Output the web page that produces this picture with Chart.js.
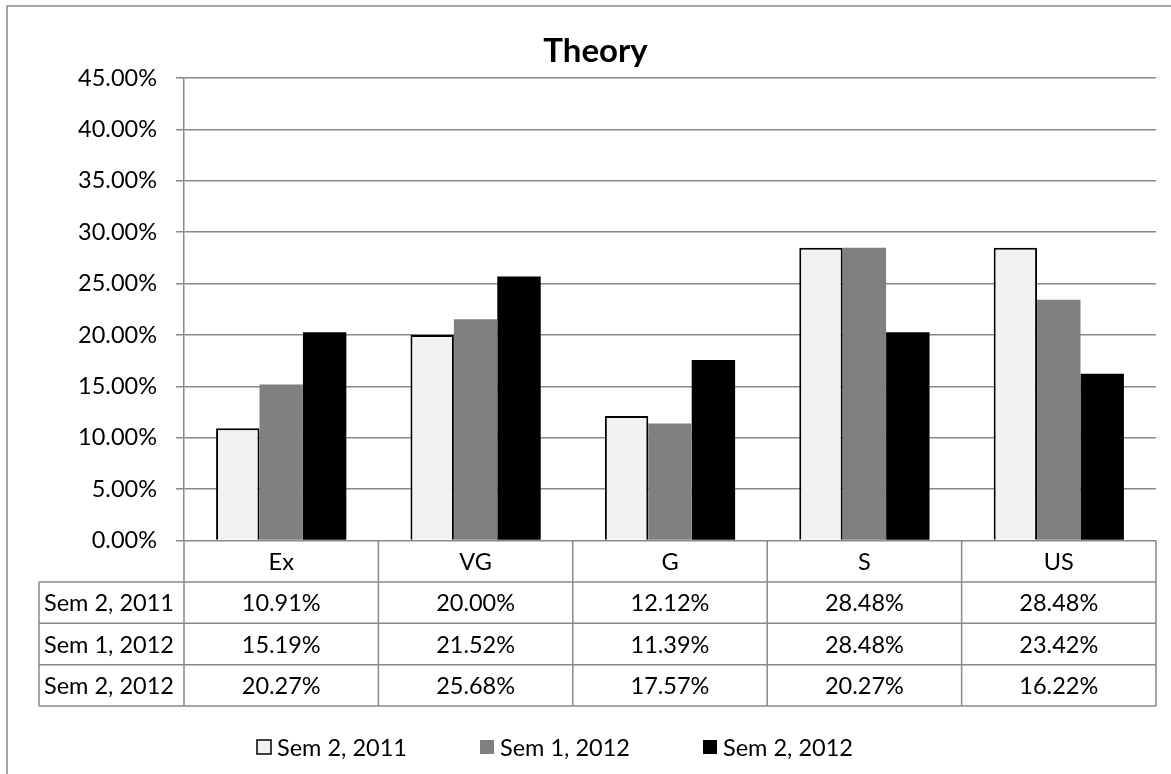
<!DOCTYPE html>
<html>
<head>
<meta charset="utf-8">
<title>Theory</title>
<script src="https://cdn.jsdelivr.net/npm/chart.js@4.4.1/dist/chart.umd.min.js"></script>
<style>
  html, body { margin: 0; padding: 0; background: #ffffff; overflow: hidden; }
  canvas { display: block; }
</style>
</head>
<body>
<canvas id="chart" width="1171" height="774"></canvas>
<script>
// Grade categories and the share of students in each, per semester (percent)
const categories = ['Ex', 'VG', 'G', 'S', 'US'];
const seriesNames = ['Sem 2, 2011', 'Sem 1, 2012', 'Sem 2, 2012'];
const sem2_2011 = [10.91, 20.00, 12.12, 28.48, 28.48];
const sem1_2012 = [15.19, 21.52, 11.39, 28.48, 23.42];
const sem2_2012 = [20.27, 25.68, 17.57, 20.27, 16.22];
const yTickValues = [0, 5, 10, 15, 20, 25, 30, 35, 40, 45];

const FONT = 'Lato, "Open Sans", "DejaVu Sans", sans-serif';
const LINE = '#898989';
const TEXT_SIZE = 23.5;
const ROW_H = 41.4;
const HEADER_LEFT = 39;

const pct = v => v.toFixed(2) + '%';

// Outer frame of the chart
const framePlugin = {
  id: 'frame',
  beforeDraw(chart) {
    const ctx = chart.ctx;
    ctx.save();
    ctx.fillStyle = '#ffffff';
    ctx.fillRect(0, 0, chart.width, chart.height);
    ctx.strokeStyle = LINE;
    ctx.lineWidth = 1.5;
    ctx.beginPath();
    ctx.moveTo(7, chart.height + 5);
    ctx.lineTo(7, 6);
    ctx.lineTo(chart.width + 5, 6);
    ctx.stroke();
    ctx.restore();
  }
};

// Data table under the plot, aligned to the category scale
const dataTablePlugin = {
  id: 'dataTable',
  afterDraw(chart) {
    const ctx = chart.ctx;
    const xs = chart.scales.x;
    const ys = chart.scales.y;
    const top = ys.getPixelForValue(0);
    const n = categories.length;
    const half = (xs.getPixelForValue(1) - xs.getPixelForValue(0)) / 2;
    const edges = [];
    for (let i = 0; i < n; i++) edges.push(xs.getPixelForValue(i) - half);
    edges.push(xs.getPixelForValue(n - 1) + half);
    const rows = chart.data.datasets.length;
    const bottom = top + ROW_H * (rows + 1);

    ctx.save();
    ctx.strokeStyle = LINE;
    ctx.lineWidth = 1.5;
    ctx.beginPath();
    for (let r = 1; r <= rows + 1; r++) {
      const yy = top + r * ROW_H;
      ctx.moveTo(HEADER_LEFT, yy);
      ctx.lineTo(edges[n], yy);
    }
    edges.forEach(ex => { ctx.moveTo(ex, top); ctx.lineTo(ex, bottom); });
    ctx.moveTo(HEADER_LEFT, top + ROW_H);
    ctx.lineTo(HEADER_LEFT, bottom);
    ctx.stroke();

    ctx.fillStyle = '#000000';
    ctx.font = TEXT_SIZE + 'px ' + FONT;
    ctx.textBaseline = 'middle';
    ctx.textAlign = 'center';
    categories.forEach((c, i) => ctx.fillText(c, xs.getPixelForValue(i), top + ROW_H / 2 + 1));
    chart.data.datasets.forEach((ds, r) => {
      const cy = top + ROW_H * (r + 1.5) + 1;
      ctx.textAlign = 'left';
      ctx.fillText(ds.label, HEADER_LEFT + 5, cy);
      ctx.textAlign = 'center';
      ds.data.forEach((v, i) => ctx.fillText(pct(v), xs.getPixelForValue(i), cy));
    });
    ctx.restore();
  }
};

// Legend row at the bottom
const legendRowPlugin = {
  id: 'legendRow',
  afterDraw(chart) {
    const ctx = chart.ctx;
    const startX = 257, stride = 223, cy = 747, box = 14;
    ctx.save();
    ctx.font = TEXT_SIZE + 'px ' + FONT;
    ctx.textBaseline = 'middle';
    ctx.textAlign = 'left';
    chart.data.datasets.forEach((ds, i) => {
      const bx = startX + i * stride;
      ctx.fillStyle = ds.backgroundColor;
      ctx.fillRect(bx, cy - box / 2, box, box);
      if (ds.borderWidth) {
        ctx.strokeStyle = ds.borderColor;
        ctx.lineWidth = 1.5;
        ctx.strokeRect(bx, cy - box / 2, box, box);
      }
      ctx.fillStyle = '#000000';
      ctx.fillText(ds.label, bx + box + 6, cy + 1);
    });
    ctx.restore();
  }
};

new Chart(document.getElementById('chart'), {
  type: 'bar',
  data: {
    labels: categories,
    datasets: [
      { label: seriesNames[0], data: sem2_2011, backgroundColor: '#f2f2f2', borderColor: '#000000', borderWidth: 2 },
      { label: seriesNames[1], data: sem1_2012, backgroundColor: '#808080', borderWidth: 0 },
      { label: seriesNames[2], data: sem2_2012, backgroundColor: '#000000', borderWidth: 0 }
    ]
  },
  options: {
    responsive: false,
    animation: false,
    devicePixelRatio: 1,
    categoryPercentage: 0.67,
    barPercentage: 1.0,
    layout: { padding: { left: 35, right: 15, top: 0, bottom: 68 } },
    plugins: {
      legend: { display: false },
      tooltip: { enabled: false },
      title: {
        display: true,
        text: 'Theory',
        color: '#000000',
        font: { family: FONT, size: 33, weight: 'bold' },
        padding: { top: 32, bottom: 6.4 }
      }
    },
    scales: {
      x: {
        ticks: { display: false },
        grid: { display: false },
        border: { display: false },
        afterFit(scale) { scale.height = 165.5; }
      },
      y: {
        min: 0,
        max: 45,
        afterBuildTicks(scale) { scale.ticks = yTickValues.map(v => ({ value: v })); },
        ticks: {
          callback: v => pct(v),
          color: '#000000',
          font: { family: FONT, size: TEXT_SIZE },
          padding: 19
        },
        grid: { color: LINE, lineWidth: 1.5, tickLength: 8, drawTicks: true },
        border: { display: true, color: LINE, width: 1.5 },
        afterFit(scale) { scale.width = 149; }
      }
    }
  },
  plugins: [framePlugin, dataTablePlugin, legendRowPlugin]
});
</script>
</body>
</html>
